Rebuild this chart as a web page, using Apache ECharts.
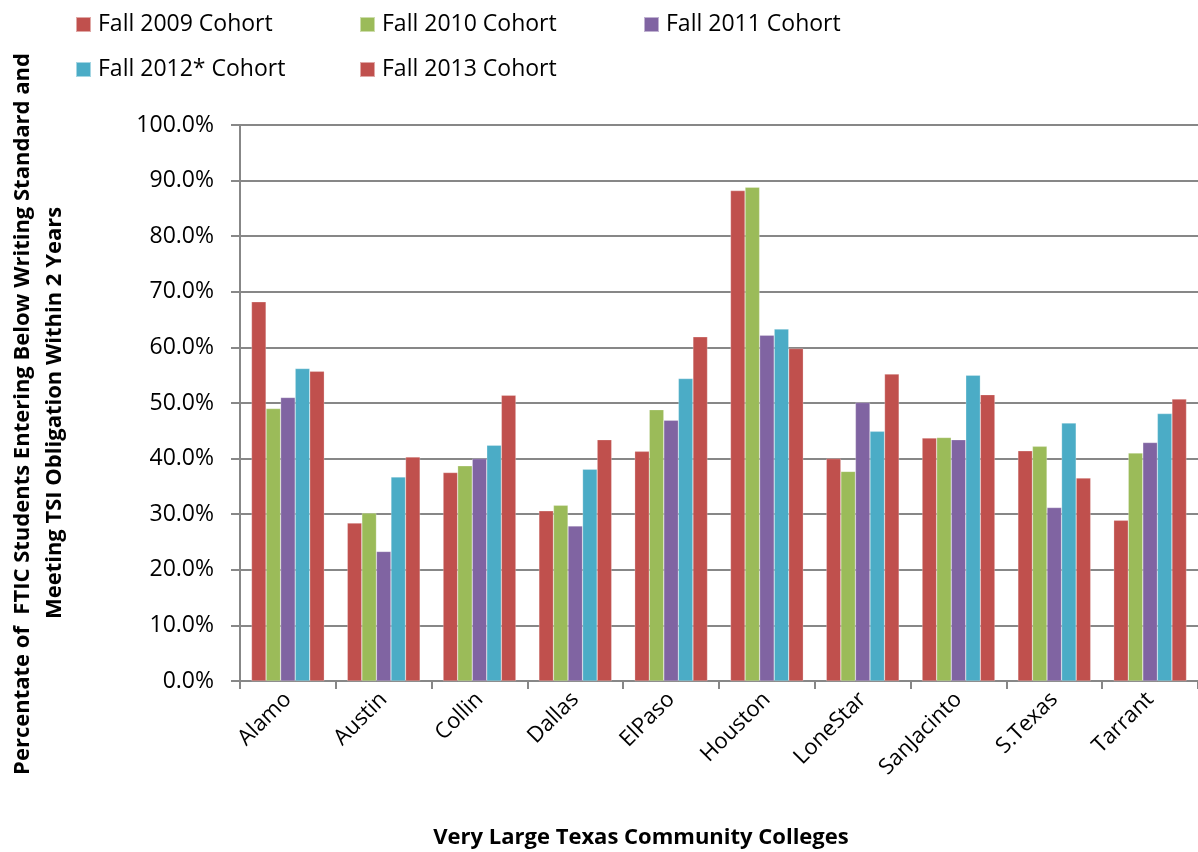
<!DOCTYPE html>
<html>
<head>
<meta charset="utf-8">
<script src="https://cdn.jsdelivr.net/npm/echarts@6/dist/echarts.min.js"></script>
<style>
html,body{margin:0;padding:0;background:#fff;}
#chart{width:1198px;height:852px;}
</style>
</head>
<body>
<div id="chart"></div>
<script>
const categories = ['Alamo','Austin','Collin','Dallas','ElPaso','Houston','LoneStar','SanJacinto','S.Texas','Tarrant'];
const seriesNames = ['Fall 2009 Cohort','Fall 2010 Cohort','Fall 2011 Cohort','Fall 2012* Cohort','Fall 2013 Cohort'];
const fall2009 = [68.2, 28.4, 37.5, 30.6, 41.3, 88.2, 40.0, 43.7, 41.4, 28.9];
const fall2010 = [49.0, 30.2, 38.7, 31.6, 48.8, 88.8, 37.7, 43.8, 42.2, 41.0];
const fall2011 = [51.0, 23.3, 40.0, 27.9, 46.9, 62.2, 50.1, 43.4, 31.2, 42.9];
const fall2012 = [56.2, 36.7, 42.4, 38.1, 54.4, 63.3, 44.9, 55.0, 46.4, 48.1];
const fall2013 = [55.7, 40.3, 51.4, 43.4, 61.9, 59.8, 55.2, 51.5, 36.5, 50.7];
const yTicks = [0,10,20,30,40,50,60,70,80,90,100];
const colors = ['#C0504D','#9BBB59','#8064A2','#4BACC6','#C0504D'];
const allData = [fall2009, fall2010, fall2011, fall2012, fall2013];
const yTitle1 = 'Percentate of  FTIC Students Entering Below Writing Standard and';
const yTitle2 = 'Meeting TSI Obligation Within 2 Years';
const xTitle = 'Very Large Texas Community Colleges';

const FONT = '"Open Sans", Lato, sans-serif';
const chart = echarts.init(document.getElementById('chart'), null, {renderer:'canvas'});

const legendPos = [[75,13],[359,13],[643,13],[75,58],[359,58]];
const legends = seriesNames.map((n,i)=>({
  show:true, data:[n], left:legendPos[i][0], top:legendPos[i][1], padding:0,
  icon:'rect', itemWidth:15, itemHeight:15, itemGap:0,
  textStyle:{fontFamily:FONT,fontSize:23,color:'#000',padding:[0,0,0,2]}
}));

const option = {
  animation:false,
  backgroundColor:'#fff',
  color:colors,
  legend:legends,
  grid:{left:240,right:-5,top:125,bottom:171,containLabel:false},
  xAxis:{
    type:'category', data:categories,
    axisLine:{show:true,lineStyle:{color:'#878787',width:2}},
    axisTick:{show:true,length:8,lineStyle:{color:'#878787',width:2}},
    axisLabel:{rotate:45,margin:15,fontFamily:FONT,fontSize:22,color:'#000'}
  },
  yAxis:{
    type:'value', min:0, max:100, interval:10,
    axisLine:{show:true,lineStyle:{color:'#878787',width:2}},
    axisTick:{show:true,length:9,lineStyle:{color:'#878787',width:2}},
    splitLine:{show:true,lineStyle:{color:'#878787',width:2}},
    axisLabel:{margin:26,fontFamily:FONT,fontSize:23,color:'#000',
      formatter:v=> yTicks.includes(v) ? v.toFixed(1)+'%' : ''}
  },
  graphic:[
    {type:'text',x:23,y:414,rotation:Math.PI/2,
      style:{text:yTitle1,font:'bold 22px '+FONT,fill:'#000',textAlign:'center',textVerticalAlign:'middle'}},
    {type:'text',x:55,y:413,rotation:Math.PI/2,
      style:{text:yTitle2,font:'bold 22px '+FONT,fill:'#000',textAlign:'center',textVerticalAlign:'middle'}},
    {type:'text',x:641,y:838,
      style:{text:xTitle,font:'bold 22px '+FONT,fill:'#000',textAlign:'center',textVerticalAlign:'middle'}}
  ],
  series: seriesNames.map((n,i)=>({
    name:n, type:'bar', data:allData[i],
    barGap:'0%', barCategoryGap:'24%',
    itemStyle:{color:colors[i],borderColor:'rgba(255,255,255,0.5)',borderWidth:0.5}
  }))
};
chart.setOption(option);
</script>
</body>
</html>
